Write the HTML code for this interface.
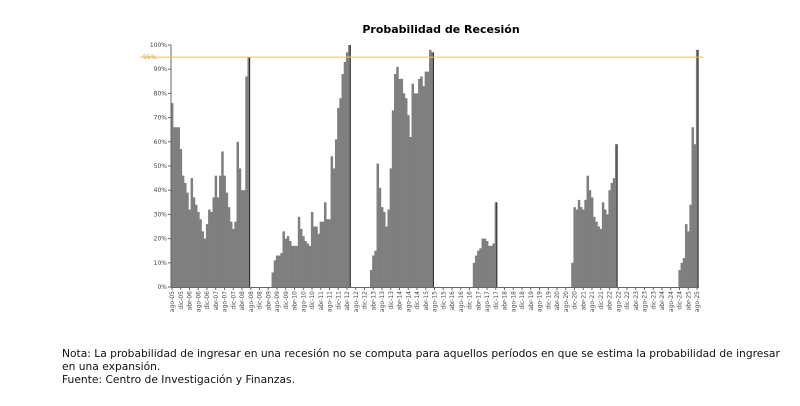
<!DOCTYPE html>
<html><head><meta charset="utf-8"><style>
body{margin:0;background:#fff;width:800px;height:406px;overflow:hidden;font-family:"DejaVu Sans","Liberation Sans",sans-serif;}
#note{position:absolute;left:62px;top:347px;font-size:10.7px;line-height:13px;color:#111;width:730px;}
</style></head><body>
<svg id="chart" width="800" height="406" style="position:absolute;left:0;top:0">
<text x="441" y="33" text-anchor="middle" font-size="11" font-weight="bold" font-family="DejaVu Sans, Liberation Sans, sans-serif">Probabilidad de Recesión</text>
<g id="bars"></g><g id="axes"></g>
</svg>
<div id="note">Nota: La probabilidad de ingresar en una recesión no se computa para aquellos períodos en que se estima la probabilidad de ingresar en una expansión.<br>Fuente: Centro de Investigación y Finanzas.</div>
<script>
const segStarts=[0,46,91,138,183,232];
const segValues=[
[76,66,66,66,57,46,43,39,32,45,37,34,31,28,23,20,26,32,31,37,46,37,46,56,46,39,33,27,24,27,60,49,40,40,87,95],
[6,11,13,13,14,23,20,21,19,17,17,17,29,24,21,19,18,17,31,25,25,22,27,27,35,28,28,54,49,61,74,78,88,93,97,100],
[7,13,15,51,41,33,31,25,32,49,73,88,91,86,86,80,78,71,62,84,80,80,86,87,83,89,89,98,97],
[10,13,15,16,20,20,19,17,17,18,35],
[10,33,32,36,33,32,36,46,40,37,29,27,25,24,35,32,30,40,43,45,59],
[7,10,12,26,23,34,66,59,98]];
const yTicks=[0,10,20,30,40,50,60,70,80,90,100];
const threshold=95;
const monthNames=["ago","dic","abr"];
const nMonths=241;
const x0=172,x1=697,yb=287,yt=45;
const step=(x1-x0)/(nMonths-1);
const X=i=>x0+i*step;
const Y=v=>yb-(v/100)*(yb-yt);
const NS="http://www.w3.org/2000/svg";
const bars=document.getElementById('bars'),axes=document.getElementById('axes');
function mk(tag,attrs,parent){const e=document.createElementNS(NS,tag);for(const k in attrs)e.setAttribute(k,attrs[k]);parent.appendChild(e);return e;}
segValues.forEach((seg,s)=>{seg.forEach((v,j)=>{const i=segStarts[s]+j;
const r=mk('rect',{x:X(i)-step/2,y:Y(v),width:step+0.3,height:yb-Y(v),fill:'#7f7f7f'},bars);

});
const last=segStarts[s]+seg.length-1;
mk('line',{x1:X(last)+step/2,x2:X(last)+step/2,y1:Y(seg[seg.length-1]),y2:yb,stroke:'#222','stroke-width':1},bars);});
const yl=mk('line',{x1:x0-1,x2:x0-1,y1:yt,y2:yb,stroke:'#666'},axes);

const xl=mk('line',{x1:x0-1,x2:x1+2,y1:yb+0.5,y2:yb+0.5,stroke:'#666'},axes);

yTicks.forEach(t=>{mk('line',{x1:x0-4,x2:x0-1,y1:Y(t),y2:Y(t),stroke:'#666'},axes);
const tx=mk('text',{x:x0-5,y:Y(t)+2,'text-anchor':'end','font-size':6,fill:'#444'},axes);tx.textContent=t+'%';
});
const th=mk('line',{x1:140,x2:x1+6,y1:Y(threshold),y2:Y(threshold),stroke:'#f0c060','stroke-width':1},axes);

const tl=mk('text',{x:143,y:Y(threshold)+2,'font-size':6,fill:'#e0a030'},axes);tl.textContent=threshold+'%';

for(let i=0;i<nMonths;i+=4){const k=i/4;const yr=5+Math.floor((i+4)/12);
const lab=monthNames[k%3]+'-'+String(yr).padStart(2,'0');
mk('line',{x1:X(i),x2:X(i),y1:yb,y2:yb+3,stroke:'#666'},axes);
const tx=mk('text',{x:0,y:0,'text-anchor':'end','font-size':6,fill:'#444',transform:`translate(${X(i)+2},${yb+4}) rotate(-90)`},axes);tx.textContent=lab;
}
</script>
</body></html>
